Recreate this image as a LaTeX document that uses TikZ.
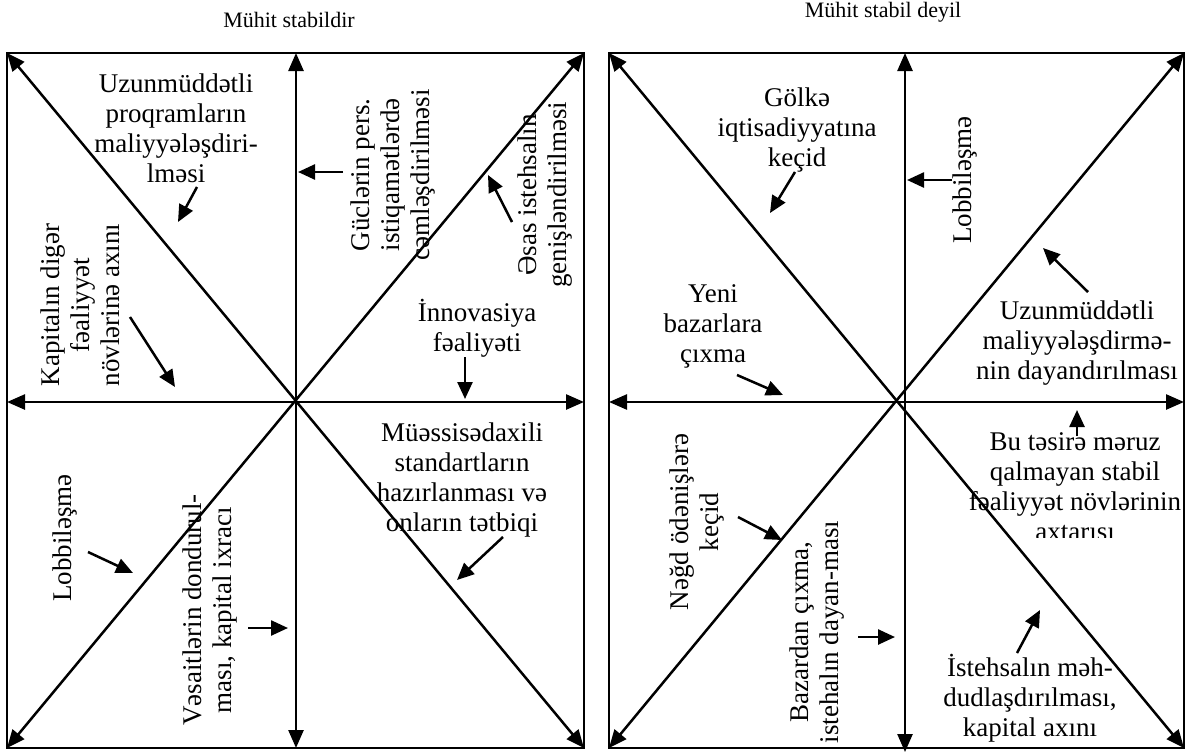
\documentclass[tikz,border=0pt]{standalone}
\usepackage{fontspec}
\setmainfont{Liberation Serif}
\usetikzlibrary{arrows.meta}
\begin{document}
\begin{tikzpicture}[x=1pt,y=-1pt,
  frame/.style={line width=2pt},
  axis/.style={line width=2.5pt,{Triangle[length=18pt,width=15pt]}-{Triangle[length=18pt,width=15pt]}},
  ptr/.style={line width=2.5pt,-{Triangle[length=17pt,width=15pt]}},
  lbl/.style={align=center,inner sep=0pt,font=\fontsize{27}{30}\selectfont},
  vlbl/.style={lbl,rotate=90},
  ttl/.style={inner sep=0pt,font=\fontsize{22}{26}\selectfont}]
\useasboundingbox (0,0) rectangle (1190,752);

% titles
\node[ttl] (ttlL) at (289,20) {Mühit stabildir};
\node[ttl] (ttlR) at (883,12) {Mühit stabil deyil};

% ---------- stable environment ----------
\coordinate (Ltl) at (7,53);
\coordinate (Ltr) at (584,53);
\coordinate (Lbl) at (7,748);
\coordinate (Lbr) at (584,748);
\coordinate (Lt) at (296,53);
\coordinate (Lb) at (296,748);
\coordinate (Ll) at (7,402);
\coordinate (Lr) at (584,402);
\draw[frame] (Ltl) rectangle (Lbr);
\draw[axis] (Ltl) -- (Lbr);
\draw[axis] (Lbl) -- (Ltr);
\draw[axis] (Lt) -- (Lb);
\draw[axis] (Ll) -- (Lr);

\node[lbl] (l1) at (176,128) {Uzunmüddətli\\proqramların\\maliyyələşdiri-\\lməsi};
\coordinate (l1s) at (197,187); \coordinate (l1e) at (178,222);
\draw[ptr] (l1s) -- (l1e);

\node[vlbl] (l2) at (80,305) {Kapitalın digər\\fəaliyyət\\növlərinə axını};
\coordinate (l2s) at (130,317); \coordinate (l2e) at (175,387);
\draw[ptr] (l2s) -- (l2e);

\node[vlbl] (l3) at (393,175) {Güclərin pers.\\istiqamətlərdə\\cəmləşdirilməsi};
\coordinate (l3s) at (343,172); \coordinate (l3e) at (298,172);
\draw[ptr] (l3s) -- (l3e);

\node[vlbl] (l4) at (545,195) {Əsas istehsalın\\genişləndirilməsi};
\coordinate (l4s) at (512,222); \coordinate (l4e) at (488,175);
\draw[ptr] (l4s) -- (l4e);

\node[lbl] (l5) at (477,328) {İnnovasiya\\fəaliyəti};
\coordinate (l5s) at (465,357); \coordinate (l5e) at (465,399);
\draw[ptr] (l5s) -- (l5e);

\node[lbl] (l6) at (462,480) {Müəssisədaxili\\standartların\\hazırlanması və\\onların tətbiqi};
\coordinate (l6s) at (503,537); \coordinate (l6e) at (457,580);
\draw[ptr] (l6s) -- (l6e);

\node[vlbl] (l7) at (65,538) {Lobbiləşmə};
\coordinate (l7s) at (88,552); \coordinate (l7e) at (133,573);
\draw[ptr] (l7s) -- (l7e);

\node[vlbl] (l8) at (210,610) {Vəsaitlərin dondurul-\\ması, kapital ixracı};
\coordinate (l8s) at (248,628); \coordinate (l8e) at (288,628);
\draw[ptr] (l8s) -- (l8e);

% ---------- unstable environment ----------
\coordinate (Rtl) at (609,53);
\coordinate (Rtr) at (1184,53);
\coordinate (Rbl) at (609,748);
\coordinate (Rbr) at (1184,748);
\coordinate (Rt) at (905,53);
\coordinate (Rb) at (905,752);
\coordinate (Rl) at (609,402);
\coordinate (Rr) at (1184,402);
\draw[frame] (Rtl) rectangle (Rbr);
\draw[axis] (Rtl) -- (Rbr);
\draw[axis] (Rbl) -- (Rtr);
\draw[axis] (Rt) -- (Rb);
\draw[axis] (Rl) -- (Rr);

\node[lbl] (r1) at (797,130) {Gölkə\\iqtisadiyyatına\\keçid};
\coordinate (r1s) at (795,172); \coordinate (r1e) at (770,213);
\draw[ptr] (r1s) -- (r1e);

\node[lbl] (r2) at (713,326) {Yeni\\bazarlara\\çıxma};
\coordinate (r2s) at (737,375); \coordinate (r2e) at (783,395);
\draw[ptr] (r2s) -- (r2e);

\node[vlbl] (r3) at (965,180) {Lobbiləşmə};
\coordinate (r3s) at (952,180); \coordinate (r3e) at (907,180);
\draw[ptr] (r3s) -- (r3e);

\node[lbl] (r4) at (1077,343) {Uzunmüddətli\\maliyyələşdirmə-\\nin dayandırılması};
\coordinate (r4s) at (1088,292); \coordinate (r4e) at (1043,248);
\draw[ptr] (r4s) -- (r4e);

% the text frame cuts off the last line
\begin{scope}
  \clip (955,420) rectangle (1182,537);
  \node[lbl] (r5) at (1075,487) {Bu təsirə məruz\\qalmayan stabil\\fəaliyyət növlərinin\\axtarısı};
\end{scope}
\coordinate (r5s) at (1077,436); \coordinate (r5e) at (1077,410);
\draw[ptr] (r5s) -- (r5e);

\node[vlbl] (r6) at (697,522) {Nəğd ödənişlərə\\keçid};
\coordinate (r6s) at (738,517); \coordinate (r6e) at (782,540);
\draw[ptr] (r6s) -- (r6e);

\node[vlbl] (r7) at (817,632) {Bazardan çıxma,\\istehalın dayan-ması};
\coordinate (r7s) at (858,637); \coordinate (r7e) at (895,637);
\draw[ptr] (r7s) -- (r7e);

\node[lbl] (r8) at (1030,698) {İstehsalın məh-\\dudlaşdırılması,\\kapital axını};
\coordinate (r8s) at (1017,653); \coordinate (r8e) at (1040,610);
\draw[ptr] (r8s) -- (r8e);
\end{tikzpicture}
\end{document}
